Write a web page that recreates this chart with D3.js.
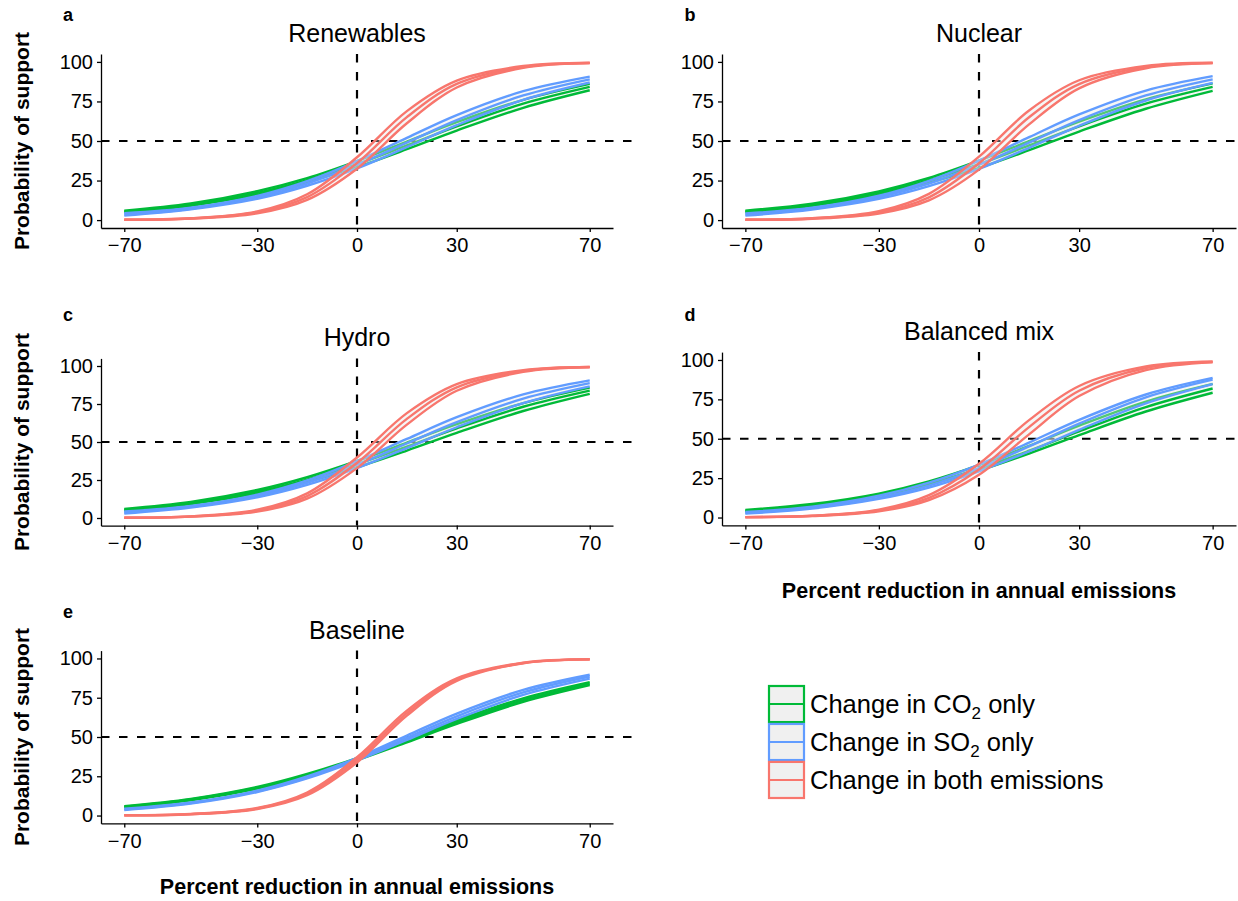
<!DOCTYPE html>
<html><head><meta charset="utf-8">
<script src="https://cdn.jsdelivr.net/npm/d3@7"></script>
<style>
body{margin:0;background:#fff}
svg{display:block}
text{font-family:"Liberation Sans",Arial,Helvetica,sans-serif;fill:#000}
</style>
</head><body>
<svg id="chart" width="1238" height="901"></svg>
<script>
// ---------- data ----------
const xValues = [-70, -50, -30, -15, 0, 15, 30, 50, 70];
const xTicks = [-70, -30, 0, 30, 70];
const yTicks = [0, 25, 50, 75, 100];
const panelTitles = ["Renewables", "Nuclear", "Hydro", "Balanced mix", "Baseline"];
const panelLetters = ["a", "b", "c", "d", "e"];
const seriesNames = ["CO2", "SO2", "both"];
const seriesColors = ["#00BA38", "#619CFF", "#F8766D"];

// each: [lower, estimate, upper]
const renewablesCO2 = [
  [4.9, 9.1, 16.1, 24.0, 33.6, 44.8, 56.6, 71.0, 82.1],
  [5.4, 9.8, 17.2, 25.2, 35.4, 47.2, 59.3, 73.6, 84.2],
  [5.9, 10.5, 18.3, 26.5, 37.3, 49.6, 61.9, 76.0, 86.1]];
const renewablesSO2 = [
  [2.8, 6.8, 13.5, 21.7, 32.7, 46.1, 60.0, 76.0, 87.0],
  [3.5, 7.2, 14.4, 23.1, 35.0, 49.0, 63.2, 78.8, 89.0],
  [4.3, 7.8, 15.3, 24.6, 37.3, 52.0, 66.4, 81.5, 90.7]];
const renewablesBoth = [
  [0.19, 0.92, 4.3, 12.8, 32.5, 61.2, 83.8, 96.2, 99.2],
  [0.21, 1.02, 4.9, 14.5, 36.0, 65.1, 86.1, 96.8, 99.35],
  [0.23, 1.13, 5.5, 16.3, 39.7, 68.9, 88.2, 97.4, 99.5]];

const nuclearCO2 = [
  [4.9, 9.0, 16.0, 23.6, 33.0, 44.2, 56.0, 70.4, 81.7],
  [5.4, 9.8, 17.2, 25.2, 35.4, 47.2, 59.3, 73.6, 84.2],
  [5.9, 10.4, 18.2, 26.6, 37.6, 49.9, 62.2, 76.3, 86.4]];
const nuclearSO2 = [
  [2.8, 6.7, 13.4, 21.5, 32.4, 45.7, 59.6, 75.6, 86.7],
  [3.5, 7.2, 14.4, 23.1, 35.0, 49.0, 63.2, 78.8, 89.0],
  [4.2, 7.8, 15.4, 24.8, 37.6, 52.4, 66.8, 81.9, 91.0]];
const nuclearBoth = [
  [0.19, 0.89, 4.2, 12.5, 31.9, 60.5, 83.3, 96.0, 99.2],
  [0.21, 1.01, 4.8, 14.4, 35.9, 65.0, 86.0, 96.8, 99.3],
  [0.23, 1.15, 5.6, 16.6, 40.1, 69.3, 88.4, 97.5, 99.5]];

const hydroCO2 = [
  [4.9, 9.1, 16.2, 23.8, 33.4, 44.4, 56.0, 70.4, 81.7],
  [5.4, 9.9, 17.3, 25.3, 35.4, 47.0, 59.0, 73.2, 83.8],
  [6.0, 10.6, 18.4, 26.8, 37.5, 49.6, 61.7, 75.6, 85.8]];
const hydroSO2 = [
  [2.9, 6.8, 13.6, 21.8, 32.8, 46.0, 59.7, 75.6, 86.6],
  [3.6, 7.3, 14.5, 23.2, 35.1, 49.0, 63.0, 78.5, 88.7],
  [4.3, 7.9, 15.4, 24.7, 37.4, 52.0, 66.3, 81.3, 90.5]];
const hydroBoth = [
  [0.18, 0.9, 4.2, 12.7, 32.8, 61.4, 83.7, 96.1, 99.1],
  [0.2, 1.0, 4.8, 14.4, 36.2, 65.2, 86.0, 96.7, 99.3],
  [0.22, 1.1, 5.4, 16.2, 39.8, 69.0, 88.1, 97.3, 99.4]];

const balancedCO2 = [
  [3.9, 7.6, 13.9, 20.9, 29.8, 40.6, 52.3, 67.3, 79.2],
  [4.3, 7.9, 14.3, 21.5, 31.0, 42.4, 54.7, 70.1, 81.9],
  [4.8, 8.6, 15.2, 22.9, 33.2, 45.5, 58.3, 73.6, 84.8]];
const balancedSO2 = [
  [2.5, 5.7, 11.8, 19.0, 29.3, 41.9, 55.7, 72.5, 84.7],
  [2.9, 6.1, 12.5, 20.3, 31.4, 45.1, 59.6, 76.3, 87.5],
  [3.5, 6.9, 13.8, 22.1, 33.6, 47.6, 62.0, 78.1, 88.6]];
const balancedBoth = [
  [0.22, 0.93, 3.9, 11.0, 27.1, 52.8, 77.1, 93.6, 98.5],
  [0.23, 1.03, 4.45, 12.5, 30.5, 57.4, 80.5, 94.9, 98.8],
  [0.25, 1.14, 5.0, 14.2, 34.1, 61.8, 83.5, 95.9, 99.1]];

const baselineCO2 = [
  [5.3, 9.7, 17.1, 25.0, 35.2, 46.6, 58.3, 72.4, 83.1],
  [5.6, 10.2, 17.7, 25.7, 35.9, 47.5, 59.4, 73.5, 84.0],
  [6.0, 10.6, 18.2, 26.5, 36.6, 48.4, 60.5, 74.6, 84.9]];
const baselineSO2 = [
  [3.5, 7.6, 15.0, 23.6, 35.0, 48.1, 61.5, 76.8, 87.2],
  [3.9, 7.9, 15.4, 24.2, 35.9, 49.5, 63.2, 78.4, 88.5],
  [4.3, 8.3, 15.9, 24.9, 36.8, 50.9, 64.9, 80.0, 89.6]];
const baselineBoth = [
  [0.16, 0.84, 4.2, 13.0, 33.8, 63.6, 85.7, 96.9, 99.4],
  [0.18, 0.90, 4.5, 13.8, 35.4, 65.2, 86.5, 97.1, 99.4],
  [0.19, 0.97, 4.8, 14.7, 37.1, 66.8, 87.3, 97.3, 99.5]];

const panelSeries = [
  [renewablesCO2, renewablesSO2, renewablesBoth],
  [nuclearCO2, nuclearSO2, nuclearBoth],
  [hydroCO2, hydroSO2, hydroBoth],
  [balancedCO2, balancedSO2, balancedBoth],
  [baselineCO2, baselineSO2, baselineBoth]];

// ---------- layout ----------
const layout = [
  {left: 101, right: 613, hEnd: 641, top: 54, bottom: 228, ytitle: true, xtitle: false, letterX: 68, letterY: 21, titleY: 41.5},
  {left: 722, right: 1236, hEnd: 1238, top: 54, bottom: 228, ytitle: false, xtitle: false, letterX: 690, letterY: 21, titleY: 41.5},
  {left: 101, right: 613, hEnd: 641, top: 358.4, bottom: 525.6, ytitle: true, xtitle: false, letterX: 68, letterY: 321, titleY: 345.5},
  {left: 722, right: 1236, hEnd: 1238, top: 352.1, bottom: 525.4, ytitle: false, xtitle: true, letterX: 690, letterY: 321, titleY: 339.5, xtitleY: 598},
  {left: 101, right: 613, hEnd: 641, top: 650.6, bottom: 823.4, ytitle: true, xtitle: true, letterX: 68, letterY: 618, titleY: 638.5, xtitleY: 894}];

const svg = d3.select("#chart");
const fmt = d => d < 0 ? "\u2212" + Math.abs(d) : String(d);
const curve = d3.curveCatmullRom.alpha(0.5);

panelSeries.forEach((groups, pi) => {
  const L = layout[pi];
  const x = d3.scaleLinear().domain([-77, 77]).range([L.left, L.right]);
  const y = d3.scaleLinear().domain([-5, 105]).range([L.bottom, L.top]);
  const g = svg.append("g");

  // reference lines
  g.append("line").attr("x1", x(0)).attr("x2", x(0)).attr("y1", L.top).attr("y2", L.bottom)
    .attr("stroke", "#000").attr("stroke-width", 2.2).attr("stroke-dasharray", "8.5,9.5");
  g.append("line").attr("x1", L.left).attr("x2", L.hEnd).attr("y1", y(50)).attr("y2", y(50))
    .attr("stroke", "#000").attr("stroke-width", 2.2).attr("stroke-dasharray", "8.5,9.5");

  const line = d3.line().x((d, i) => x(xValues[i])).y(d => y(d)).curve(curve);
  const area = d3.area().x((d, i) => x(xValues[i])).y0(d => y(d[0])).y1(d => y(d[1])).curve(curve);

  groups.forEach((band, si) => {
    const pairs = band[0].map((v, i) => [v, band[2][i]]);
    g.append("path").attr("d", area(pairs)).attr("fill", "#e6e6e6").attr("fill-opacity", 0.35);
    band.forEach(vals => {
      g.append("path").attr("d", line(vals)).attr("fill", "none")
        .attr("stroke", seriesColors[si]).attr("stroke-width", 2.4);
    });
  });

  // axes
  const ax = g.append("g").attr("transform", `translate(0,${L.bottom})`)
    .call(d3.axisBottom(x).tickValues(xTicks).tickFormat(fmt).tickSizeInner(4).tickSizeOuter(0).tickPadding(6));
  const ay = g.append("g").attr("transform", `translate(${L.left},0)`)
    .call(d3.axisLeft(y).tickValues(yTicks).tickFormat(fmt).tickSizeInner(4).tickSizeOuter(0).tickPadding(4));
  [ax, ay].forEach(a => {
    a.select(".domain").attr("stroke", "#000").attr("stroke-width", 1.3);
    a.selectAll(".tick line").attr("stroke", "#000").attr("stroke-width", 1.3);
    a.selectAll(".tick text").attr("font-size", 20).attr("fill", "#000")
      .style("font-family", '"Liberation Sans",Arial,sans-serif');
  });

  // titles
  svg.append("text").attr("x", (L.left + L.right) / 2).attr("y", L.titleY)
    .attr("text-anchor", "middle").attr("font-size", 25).text(panelTitles[pi]);
  svg.append("text").attr("x", L.letterX).attr("y", L.letterY)
    .attr("text-anchor", "middle").attr("font-size", 18).attr("font-weight", "bold").text(panelLetters[pi]);
  if (L.ytitle) {
    svg.append("text").attr("transform", `translate(29,${(L.top + L.bottom) / 2}) rotate(-90)`)
      .attr("text-anchor", "middle").attr("font-size", 21).attr("font-weight", "bold").text("Probability of support");
  }
  if (L.xtitle) {
    svg.append("text").attr("x", (L.left + L.right) / 2).attr("y", L.xtitleY)
      .attr("text-anchor", "middle").attr("font-size", 21.5).attr("font-weight", "bold").text("Percent reduction in annual emissions");
  }
});

// ---------- legend ----------
const legendLabels = [
  ["Change in CO", "2", " only"],
  ["Change in SO", "2", " only"],
  ["Change in both emissions", "", ""]];
const lg = svg.append("g");
const legendRowY = d3.scaleBand().domain(d3.range(legendLabels.length)).range([686, 798]).paddingInner(0.05);
legendLabels.forEach((lab, i) => {
  const y0 = legendRowY(i), h = legendRowY.bandwidth();
  lg.append("rect").attr("x", 769).attr("y", y0).attr("width", 35).attr("height", h)
    .attr("fill", "#f0f0f0").attr("stroke", seriesColors[i]).attr("stroke-width", 2.2);
  lg.append("line").attr("x1", 769).attr("x2", 804).attr("y1", y0 + h / 2).attr("y2", y0 + h / 2)
    .attr("stroke", seriesColors[i]).attr("stroke-width", 2.1);
  const t = lg.append("text").attr("x", 810).attr("y", y0 + h / 2 + 9).attr("font-size", 25.5);
  t.append("tspan").text(lab[0]);
  if (lab[1]) {
    t.append("tspan").attr("font-size", 17).attr("dy", 6).text(lab[1]);
    t.append("tspan").attr("dy", -6).text(lab[2]);
  }
});
</script>
</body></html>
